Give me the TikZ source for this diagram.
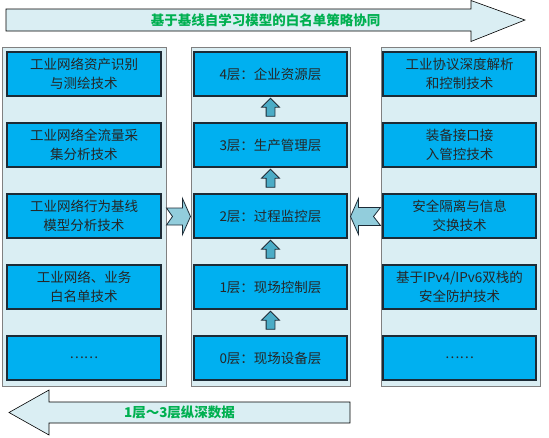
\documentclass[tikz,border=0pt]{standalone}
\usepackage{fontspec}
\setmainfont{Noto Sans CJK SC}
\usetikzlibrary{shapes,arrows,calc,positioning}
\definecolor{panelblue}{HTML}{DAEEF3}
\definecolor{boxblue}{HTML}{00B0F0}
\definecolor{upteal}{HTML}{4BACC6}
\definecolor{sideteal}{HTML}{92CDDC}
\definecolor{titlegreen}{HTML}{00B050}
\definecolor{boxline}{HTML}{1C2B36}
\tikzstyle{panel} = [rectangle, draw=gray, line width=1pt, fill=panelblue, minimum width=159pt, minimum height=339pt]
\tikzstyle{layerbox} = [rectangle, draw=boxline, line width=1.3pt, fill=boxblue, minimum width=153pt, minimum height=44pt, text width=145pt, align=center, text=black!85, node distance=71pt, font=\fontsize{13.5}{19}\selectfont]
\tikzstyle{layerup} = [single arrow, draw=boxline, line width=0.8pt, fill=upteal, inner sep=4pt, single arrow head extend=4.5pt, minimum height=18pt, shape border rotate=90]
\tikzstyle{sidearrow} = [draw=boxline, line width=0.8pt, fill=sideteal]
\tikzstyle{flowarrow} = [draw=black, line width=0.6pt, fill=panelblue]
\tikzstyle{flowtext} = [text=titlegreen, font=\fontsize{13.5}{15}\selectfont\bfseries]

\begin{document}
\begin{tikzpicture}[x=1pt, y=1pt]
	\useasboundingbox (0,0) rectangle (549,-437);
	
	% three columns
	\node [panel] (mp) at (270.5,-216.5) {};
	\node [panel, left of = mp, minimum width = 164pt, node distance = 186.5pt] (lp) {};
	\node [panel, right of = mp, node distance = 190pt] (rp) {};
	
	% middle column: layers
	\node [layerbox] (m4) at (270.5,-74) {4层：企业资源层};
	\node [layerbox, below of = m4] (m3) {3层：生产管理层};
	\node [layerbox, below of = m3] (m2) {2层：过程监控层};
	\node [layerbox, below of = m2] (m1) {1层：现场控制层};
	\node [layerbox, below of = m1] (m0) {0层：现场设备层};
	
	\node [layerup] at ($(m0)!0.5!(m1)$) {};
	\node [layerup] at ($(m1)!0.5!(m2)$) {};
	\node [layerup] at ($(m2)!0.5!(m3)$) {};
	\node [layerup] at ($(m3)!0.5!(m4)$) {};
	
	% left column
	\node [layerbox, left of = m4, minimum width = 154pt, node distance = 186.5pt] (l1) {工业网络资产识别\\与测绘技术};
	\node [layerbox, below of = l1, minimum width = 154pt] (l2) {工业网络全流量采\\集分析技术};
	\node [layerbox, below of = l2, minimum width = 154pt] (l3) {工业网络行为基线\\模型分析技术};
	\node [layerbox, below of = l3, minimum width = 154pt] (l4) {工业网络、业务\\白名单技术};
	\node [layerbox, below of = l4, minimum width = 154pt] (l5) {……};
	
	% right column
	\node [layerbox, right of = m4, node distance = 189pt] (r1) {工业协议深度解析\\和控制技术};
	\node [layerbox, below of = r1] (r2) {装备接口接\\入管控技术};
	\node [layerbox, below of = r2] (r3) {安全隔离与信息\\交换技术};
	\node [layerbox, below of = r3] (r4) {基于IPv4/IPv6双栈的\\安全防护技术};
	\node [layerbox, below of = r4] (r5) {……};
	
	% side arrows into the layers
	\draw [sidearrow] ($(lp.east)+(0,8.5)$) -- ($(mp.west)+(-8,8.5)$) -- ($(mp.west)+(-8,18)$) -- (mp.west) -- ($(mp.west)+(-8,-18)$) -- ($(mp.west)+(-8,-8.5)$) -- ($(lp.east)+(0,-8.5)$) -- ($(lp.east)+(6,0)$) -- cycle;
	\draw [sidearrow] (mp.east) -- ($(mp.east)+(8,18)$) -- ($(mp.east)+(8,9)$) -- ($(rp.west)+(0,9)$) -- ($(rp.west)+(-7,0)$) -- ($(rp.west)+(0,-9)$) -- ($(mp.east)+(8,-9)$) -- ($(mp.east)+(8,-18)$) -- cycle;
	
	% big arrows
	\draw [flowarrow] (6,-9) -- (471,-9) -- (471,-0.5) -- (525,-20) -- (471,-41.5) -- (471,-31) -- (6,-31) -- cycle;
	\node [flowtext] (strategy) at (265.5,-20) {基于基线自学习模型的白名单策略协同};
	\draw [flowarrow] (350,-402) -- (49,-402) -- (49,-390) -- (9,-412.5) -- (49,-435) -- (49,-423) -- (350,-423) -- cycle;
	\node [flowtext] (depth) at (179.5,-412.5) {1层～3层纵深数据};
\end{tikzpicture}
\end{document}
